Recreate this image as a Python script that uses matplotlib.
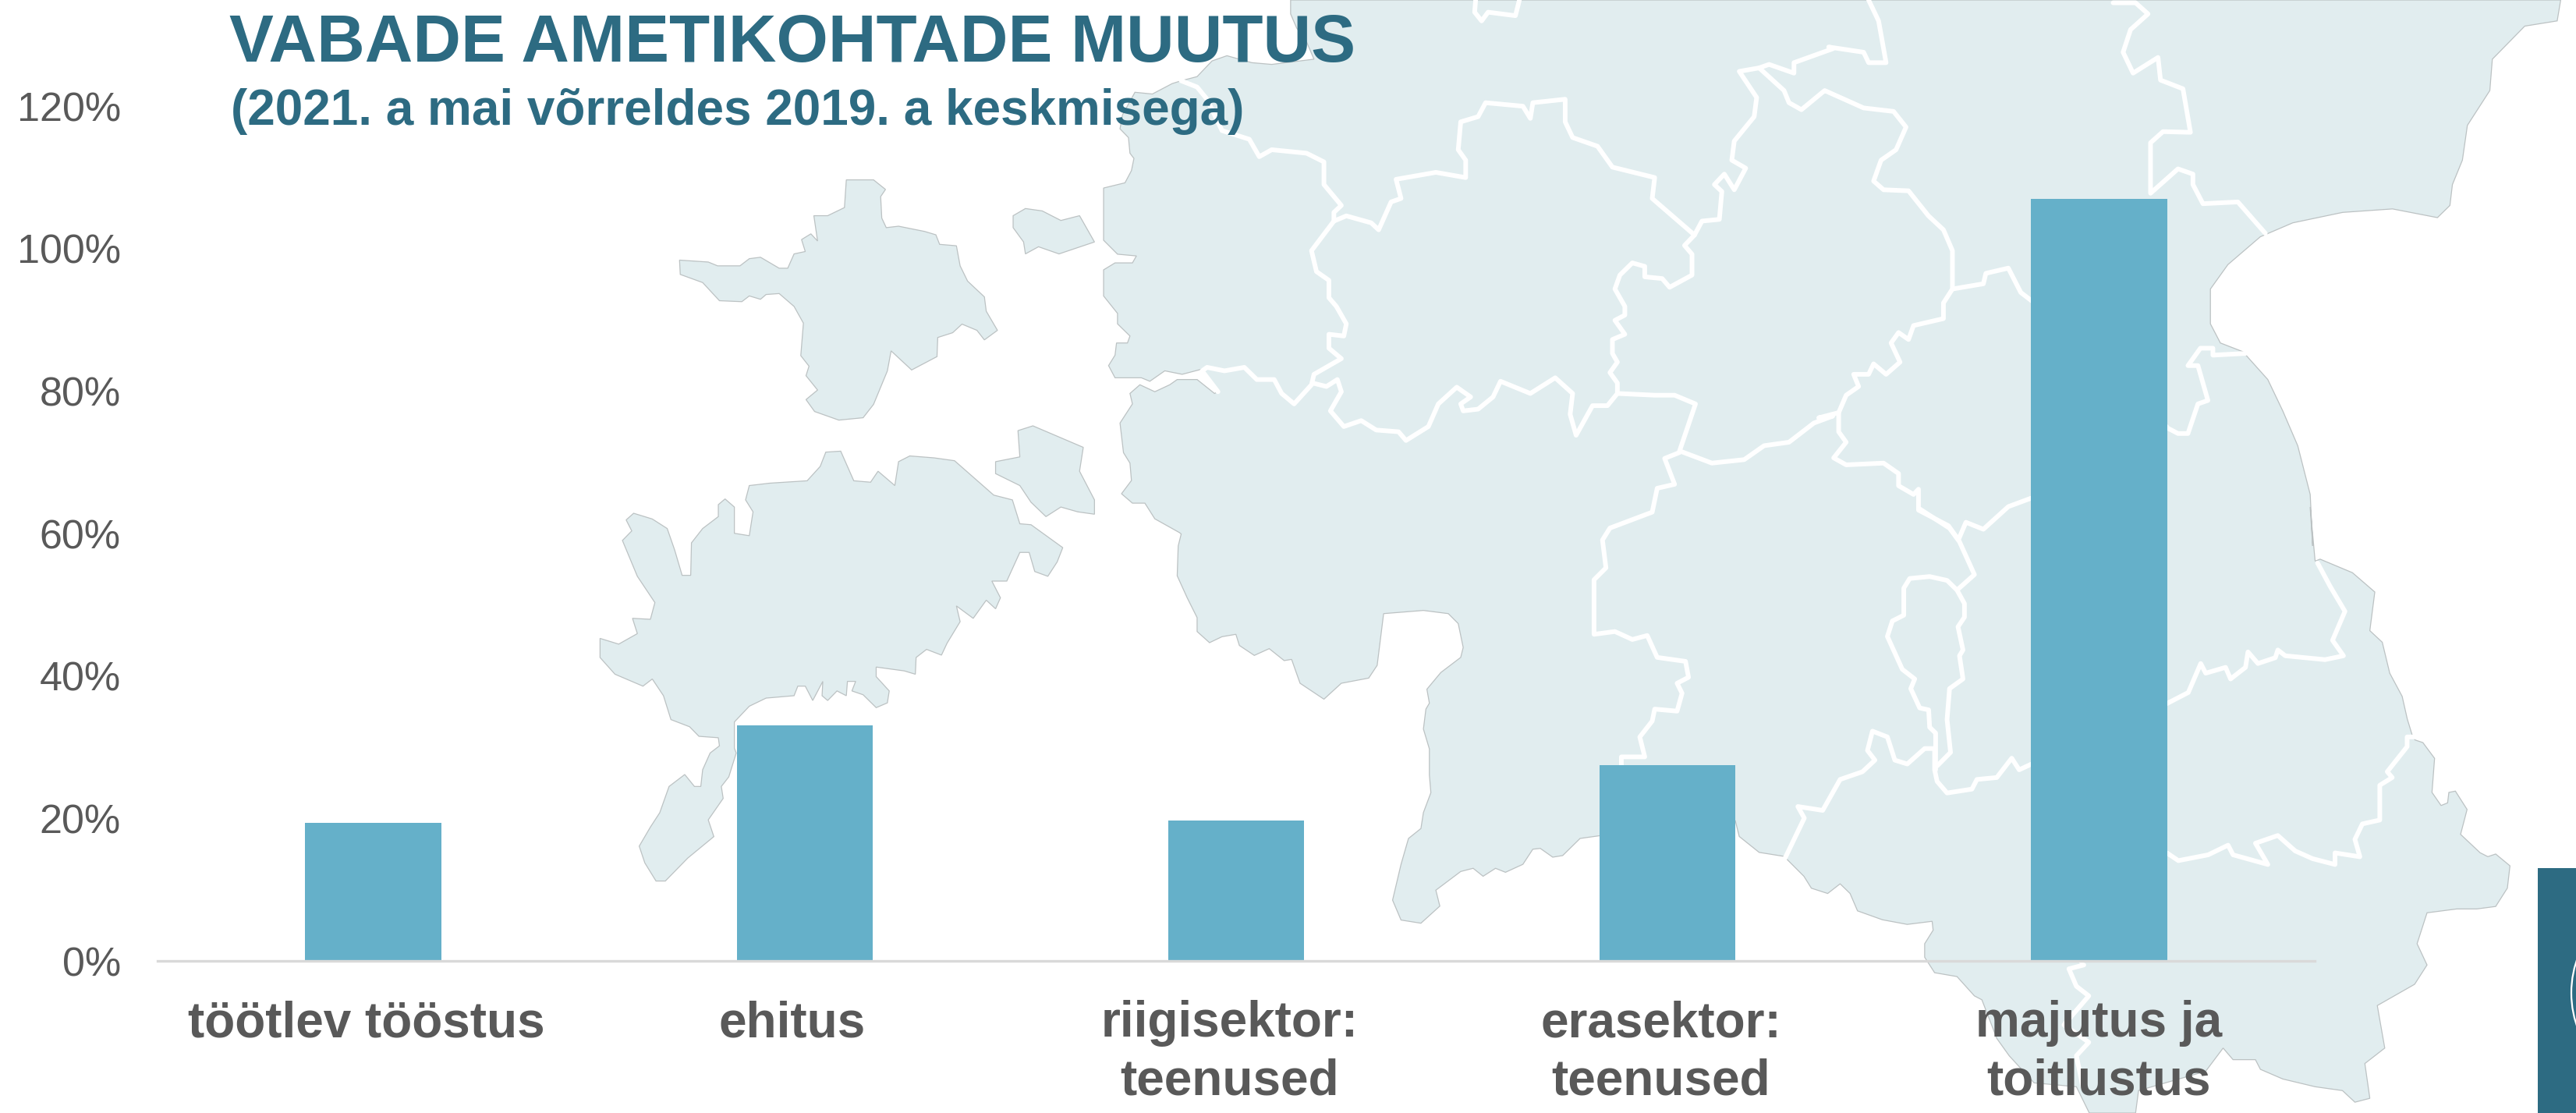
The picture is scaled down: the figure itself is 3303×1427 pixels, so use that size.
import matplotlib
matplotlib.use('Agg')
import matplotlib.pyplot as plt
from matplotlib.patches import Polygon, Rectangle, Circle
from matplotlib.transforms import ScaledTranslation

plt.rcParams['font.family'] = ['Liberation Sans', 'DejaVu Sans']

# chart data
categories = ['töötlev tööstus', 'ehitus', 'riigisektor:\nteenused', 'erasektor:\nteenused', 'majutus ja\ntoitlustus']
values = [19.4, 33.1, 19.7, 27.5, 107.0]
y_ticks = [0, 20, 40, 60, 80, 100, 120]

title = 'VABADE AMETIKOHTADE MUUTUS'
subtitle = '(2021. a mai võrreldes 2019. a keskmisega)'

TEAL = '#2d6b82'
BAR = '#65b0c9'
GREY = '#595959'
MAP = '#e1edef'
COAST = '#bcc2c3'

W, H = 3303, 1427

# Backdrop map, traced from crops of the picture. Each trace is kept in the
# coordinates of its crop, the helpers below turn them into picture pixels.
def z1(pts):
    return [(2900 + x / 3.0, 900 + y / 2.975) for x, y in pts]

def z3(pts):
    return [(1350 + x / 1.568, y / 2.24) for x, y in pts]

def z4(pts):
    return [(2300 + x / 1.563, y / 2.24) for x, y in pts]

def z5(pts):
    return [(1350 + x / 1.568, 450 + y / 1.96) for x, y in pts]

def z6(pts):
    return [(2200 + x / 1.568, 650 + y / 2.018) for x, y in pts]

def z7(pts):
    return [(700 + x / 2.09, 200 + y / 1.633) for x, y in pts]

mainland = (
    z3([(478, 0), (478, 40), (490, 80), (510, 120), (525, 170), (440, 185), (400, 180), (350, 160), (320, 175),
        (290, 220), (258, 232), (240, 240), (200, 270), (165, 265), (140, 330), (135, 370), (152, 395), (155, 440),
        (163, 455), (158, 490), (145, 525), (102, 540), (102, 690), (130, 730), (168, 735), (160, 755), (125, 755),
        (102, 775), (102, 850), (130, 900), (130, 930), (155, 965), (150, 985), (128, 985), (125, 1020), (112, 1050),
        (125, 1085), (178, 1085), (195, 1095), (225, 1065), (260, 1075), (300, 1060), (332, 1125), (325, 1130),
        (290, 1090), (250, 1090), (235, 1105), (205, 1125), (175, 1105), (155, 1130), (160, 1160), (135, 1215),
        (142, 1300), (155, 1330), (158, 1380), (138, 1418), (160, 1445), (185, 1445), (205, 1490), (255, 1530)])
    + z5([(258, 460), (252, 490), (250, 565), (270, 620), (290, 670), (290, 705), (315, 733), (340, 718), (368, 712),
          (375, 740), (405, 765), (435, 748), (465, 778), (480, 775), (497, 835), (545, 875), (580, 835), (635, 822),
          (652, 790), (665, 660), (745, 652), (795, 660), (815, 685), (825, 745), (820, 770), (780, 808), (752, 850),
          (757, 885), (750, 900), (745, 950), (757, 1000), (757, 1065), (760, 1110), (745, 1160), (740, 1200),
          (715, 1225), (700, 1290), (683, 1380), (700, 1430), (740, 1438), (778, 1395), (770, 1355), (820, 1308),
          (845, 1300), (865, 1320), (890, 1300), (910, 1310), (945, 1290), (965, 1252), (980, 1250), (1005, 1272),
          (1025, 1268), (1060, 1225), (1100, 1218), (1372, 1180), (1380, 1220), (1420, 1260), (1470, 1270),
          (1510, 1320), (1525, 1350)])
    + z6([(225, 1000), (250, 975), (270, 1000), (285, 1045), (335, 1068), (385, 1080), (435, 1072), (437, 1095),
          (420, 1130), (420, 1165), (440, 1205), (485, 1215), (520, 1265), (535, 1275), (565, 1375), (590, 1420),
          (640, 1490), (725, 1500), (751, 1568), (844, 1568), (850, 1510), (985, 1460), (1020, 1400), (1040, 1430),
          (1085, 1430), (1095, 1455), (1140, 1480), (1205, 1500), (1260, 1510), (1285, 1540), (1315, 1530),
          (1305, 1440), (1345, 1400), (1330, 1290), (1405, 1235), (1430, 1185), (1410, 1130), (1430, 1050),
          (1490, 1040), (1530, 1040)])
    + z1([(900, 780), (945, 710), (955, 625), (900, 580), (870, 590), (840, 575), (765, 505), (790, 410), (745, 340),
          (720, 345), (715, 385), (690, 395), (655, 345), (665, 215), (620, 155), (590, 145), (580, 130), (560, 65)])
    + z6([(1380, 490), (1355, 430), (1340, 350), (1315, 320), (1325, 220), (1280, 170), (1215, 135), (1205, 140),
          (1195, 0)])
    + z4([(1040, 1568), (1035, 1420), (1010, 1280), (980, 1180), (950, 1090), (900, 1010), (855, 985), (835, 930),
          (835, 830), (870, 760), (935, 680), (1000, 640), (1100, 610), (1200, 600), (1290, 625), (1315, 590),
          (1320, 530), (1340, 460), (1350, 360), (1395, 260), (1400, 170), (1465, 75), (1530, 60), (1537, 0)])
)

hiiumaa = z7([(358, 218), (435, 222), (460, 230), (520, 230), (545, 215), (575, 212), (625, 235), (648, 235),
              (665, 205), (695, 200), (685, 175), (710, 163), (728, 178), (718, 125), (755, 125), (800, 108),
              (805, 50), (878, 50), (910, 70), (897, 85), (900, 130), (912, 150), (945, 147), (1015, 158),
              (1045, 165), (1055, 185), (1100, 188), (1110, 230), (1130, 262), (1175, 295), (1180, 325), (1210, 365),
              (1175, 385), (1155, 365), (1115, 352), (1090, 370), (1050, 380), (1048, 420), (980, 448), (925, 408),
              (915, 450), (878, 520), (850, 548), (785, 553), (720, 535), (697, 510), (728, 490), (697, 460),
              (705, 440), (683, 418), (690, 350), (665, 315), (625, 288), (590, 290), (575, 300), (545, 293),
              (525, 305), (465, 303), (420, 265), (360, 248)])

saaremaa = z7([(750, 620), (790, 618), (825, 680), (870, 683), (890, 660), (935, 690), (945, 640), (975, 628),
               (1040, 632), (1095, 638), (1200, 710), (1250, 720), (1270, 770), (1300, 772), (1385, 820), (1370, 850),
               (1345, 880), (1310, 870), (1295, 830), (1270, 830), (1235, 890), (1195, 890), (1218, 925), (1205, 948),
               (1180, 930), (1145, 968), (1100, 942), (1110, 975), (1075, 1020), (1060, 1045), (1020, 1033),
               (992, 1050), (990, 1085), (960, 1078), (885, 1070), (885, 1090), (920, 1120), (915, 1145), (885, 1155),
               (850, 1128), (820, 1120), (830, 1100), (808, 1100), (805, 1130), (780, 1120), (755, 1140), (740, 1130),
               (742, 1100), (715, 1140), (695, 1110), (675, 1110), (665, 1130), (590, 1135), (545, 1152), (505, 1185),
               (505, 1240), (510, 1250), (490, 1300), (470, 1320), (475, 1345), (435, 1390), (450, 1425), (380, 1470),
               (320, 1518), (295, 1518), (265, 1480), (250, 1445), (280, 1405), (305, 1375), (330, 1320), (372, 1295),
               (398, 1320), (415, 1320), (420, 1285), (440, 1250), (465, 1235), (462, 1218), (410, 1215), (385, 1195),
               (335, 1180), (315, 1130), (285, 1095), (260, 1110), (185, 1085), (145, 1050), (145, 1010), (195, 1022),
               (245, 1000), (232, 968), (280, 970), (292, 935), (245, 880), (205, 805), (230, 785), (215, 762),
               (235, 748), (285, 760), (325, 780), (345, 825), (365, 878), (388, 878), (390, 810), (420, 780),
               (462, 755), (462, 730), (480, 718), (505, 735), (505, 790), (545, 795), (555, 745), (535, 720),
               (545, 690), (600, 685), (700, 680), (735, 650)])

muhu = z7([(1205, 640), (1270, 630), (1265, 575), (1305, 565), (1440, 610), (1430, 660), (1470, 720), (1470, 750),
           (1425, 745), (1380, 735), (1340, 755), (1300, 725), (1270, 690), (1205, 665)])

vormsi = z7([(1252, 125), (1285, 110), (1330, 115), (1380, 135), (1430, 125), (1470, 180), (1375, 205), (1320, 190),
             (1285, 205), (1280, 180), (1252, 150)])

borders = [
    z3([(258, 232), (290, 250), (310, 285), (340, 375), (395, 400), (415, 450), (440, 430), (510, 440), (545, 465),
        (545, 530), (580, 590), (565, 610), (565, 635), (590, 620), (640, 640), (655, 660), (680, 580), (700, 570),
        (690, 515), (770, 495), (830, 510), (830, 460), (815, 430), (820, 350), (855, 335), (870, 295), (945, 305),
        (960, 340), (965, 295), (1030, 285), (1030, 350), (1045, 395), (1095, 420), (1125, 480), (1210, 510),
        (1205, 570), (1290, 675), (1305, 635), (1340, 630), (1345, 550), (1330, 530), (1350, 500), (1370, 545),
        (1393, 483), (1365, 460), (1370, 405), (1410, 335), (1415, 280), (1380, 205), (1420, 195), (1440, 185),
        (1490, 210), (1490, 180), (1568, 140)])
    + z4([(70, 135), (140, 150), (150, 180), (185, 180), (170, 60), (150, 0)]),
    z3([(1420, 195), (1470, 260), (1480, 295), (1505, 315), (1550, 262)])
    + z4([(62, 260), (140, 310), (200, 320), (225, 365), (205, 430), (175, 460), (160, 520), (180, 545), (230, 548),
          (270, 620), (300, 660), (318, 720), (318, 830), (300, 870), (300, 915), (240, 935), (230, 975), (210, 955),
          (195, 985), (213, 1040), (185, 1075), (160, 1045), (150, 1075), (120, 1075), (130, 1110), (105, 1135),
          (90, 1185), (90, 1240), (105, 1270), (80, 1315), (105, 1335), (180, 1330), (210, 1360), (210, 1395),
          (240, 1420), (250, 1405), (250, 1465), (310, 1510), (330, 1550), (345, 1500), (380, 1520), (430, 1455),
          (477, 1430)]),
    z4([(318, 830), (380, 815), (385, 785), (430, 770), (455, 840), (600, 1000), (750, 1230), (770, 1245), (790, 1245),
        (810, 1160), (830, 1150), (810, 1050), (790, 1050), (815, 1000), (840, 1000), (840, 1020), (905, 1015)]),
    z4([(640, 8), (685, 8), (710, 40), (675, 85), (660, 150), (680, 210), (730, 165), (735, 230), (780, 255),
        (795, 380), (740, 378), (715, 410), (715, 555), (770, 485), (800, 500), (800, 530), (820, 585), (890, 580),
        (945, 670)]),
    z3([(850, 0), (848, 35), (862, 60), (875, 35), (930, 45), (938, 0)]),
    z3([(565, 635), (520, 720), (530, 780), (555, 805), (555, 855), (570, 880), (590, 930), (585, 965), (555, 960),
        (555, 1000), (580, 1030), (525, 1075), (520, 1105), (485, 1160), (460, 1130), (445, 1090), (410, 1090),
        (385, 1055), (345, 1065), (310, 1055), (300, 1065), (332, 1125)]),
    z3([(522, 1100), (550, 1110), (572, 1090), (580, 1125), (558, 1180), (585, 1225), (620, 1208), (650, 1235),
        (695, 1240), (710, 1265), (755, 1225), (775, 1160), (812, 1112), (840, 1140), (820, 1160), (825, 1180),
        (855, 1175), (885, 1140), (900, 1095), (960, 1130), (1010, 1085), (1045, 1130), (1040, 1190), (1052, 1250),
        (1085, 1165), (1115, 1165), (1135, 1130), (1135, 1100), (1120, 1070), (1135, 1040), (1125, 1015), (1125, 975),
        (1150, 960), (1130, 920), (1150, 905), (1150, 880), (1130, 830), (1140, 790), (1165, 755), (1190, 765),
        (1190, 795), (1225, 800), (1240, 825), (1285, 790), (1285, 730), (1270, 705), (1290, 675)]),
    z3([(1135, 1130), (1210, 1135), (1250, 1135), (1292, 1160), (1260, 1295), (1325, 1330), (1390, 1320), (1430, 1280),
        (1480, 1270), (1530, 1215), (1568, 1195)])
    + z4([(50, 1200), (90, 1185)]),
    z5([(1260, 255), (1230, 270), (1250, 335), (1215, 345), (1205, 405), (1120, 445), (1105, 475), (1112, 545),
        (1088, 575), (1088, 712), (1130, 705), (1165, 725), (1195, 715), (1215, 770), (1272, 780), (1278, 820),
        (1255, 835), (1265, 860), (1255, 905), (1210, 900), (1205, 930), (1180, 970), (1190, 1020), (1143, 1020),
        (1143, 1045)]),
    z6([(135, 920), (178, 805), (165, 775), (215, 785), (250, 705), (295, 685), (320, 655), (305, 630), (315, 580),
        (345, 595), (360, 655), (385, 665), (420, 625), (440, 625), (440, 680), (445, 710), (465, 740), (515, 730),
        (525, 705), (565, 700), (595, 650), (610, 680), (635, 665), (770, 600), (905, 510), (950, 480), (975, 405),
        (985, 430), (1025, 415), (1035, 445), (1065, 415), (1070, 375), (1090, 405), (1125, 390), (1130, 370),
        (1145, 385), (1225, 395), (1262, 385), (1240, 345), (1265, 270), (1235, 205), (1210, 145)]),
    z6([(485, 215), (465, 190), (430, 180), (390, 185), (378, 210), (378, 280), (355, 295), (345, 335), (375, 420),
        (400, 445), (392, 470), (410, 520), (428, 525), (430, 570), (442, 585), (442, 680)]),
    z6([(410, 5), (470, 55), (490, 90), (520, 175), (485, 215), (500, 250), (500, 285), (487, 310), (497, 370),
        (490, 385), (497, 445), (470, 470), (465, 550), (472, 635), (445, 670)]),
    z6([(735, 1177), (820, 1040), (907, 895), (930, 915), (990, 900), (1030, 875), (1040, 900), (1110, 925),
        (1085, 870), (1130, 850), (1165, 890), (1200, 910), (1245, 925), (1245, 895), (1295, 905), (1285, 860),
        (1300, 820), (1335, 810), (1335, 720), (1360, 700), (1350, 685), (1390, 620), (1390, 595), (1405, 595)]),
    z6([(740, 1185), (710, 1195), (725, 1240), (750, 1265), (700, 1340), (750, 1385), (725, 1420), (738, 1500)]),
]

fig = plt.figure(figsize=(W / 100, H / 100), dpi=100, facecolor='white')

# map sits behind everything, in picture pixels
bg = fig.add_axes([0, 0, 1, 1], zorder=0)
bg.set_xlim(0, W)
bg.set_ylim(H, 0)
bg.axis('off')

for shape in [mainland, hiiumaa, saaremaa, muhu, vormsi]:
    bg.add_patch(Polygon(shape, closed=True, facecolor=MAP, edgecolor=COAST, linewidth=0.9))
for line in borders:
    xs, ys = zip(*line)
    bg.plot(xs, ys, color='white', linewidth=4.3, solid_joinstyle='round', solid_capstyle='round')

# corner of the logo box
bg.add_patch(Rectangle((3254, 1113), 60, 320, facecolor=TEAL, edgecolor='none'))
bg.add_patch(Circle((3297 + 130, 1273), 130, facecolor='none', edgecolor='white', linewidth=1.6))

# the real chart
ax = fig.add_axes([202 / W, 1 - 1232 / H, (2968 - 202) / W, (1232 - 136) / H], zorder=1)
ax.patch.set_visible(False)
ax.bar(range(len(categories)), values, width=0.315, color=BAR, edgecolor='none')
ax.set_xlim(-0.5, 4.5)
ax.set_ylim(0, 120)

ax.set_yticks(y_ticks)
ax.set_yticklabels([f'{v}%' for v in y_ticks], fontsize=37.5, color=GREY)
ax.set_xticks(range(len(categories)))
ax.set_xticklabels(categories, fontsize=46, fontweight='bold', color=GREY, linespacing=1.31)
ax.tick_params(axis='y', length=0, pad=34)
ax.tick_params(axis='x', length=0, pad=36)

# the labels are not quite centred under their bars in the original
for lab, dx in zip(ax.get_xticklabels(), [-6, -12, -6, -6, 0]):
    lab.set_transform(lab.get_transform() + ScaledTranslation(dx / 72, 0, fig.dpi_scale_trans))

for side in ['top', 'left', 'right']:
    ax.spines[side].set_visible(False)
ax.spines['bottom'].set_color('#d9d9d9')
ax.spines['bottom'].set_linewidth(2.4)

fig.text(294 / W, 1 - 79 / H, title, fontsize=61.4, fontweight='bold', color=TEAL, va='baseline', zorder=5)
fig.text(296 / W, 1 - 160 / H, subtitle, fontsize=46, fontweight='bold', color=TEAL, va='baseline', zorder=5)

fig.savefig('out.png', dpi=100)
